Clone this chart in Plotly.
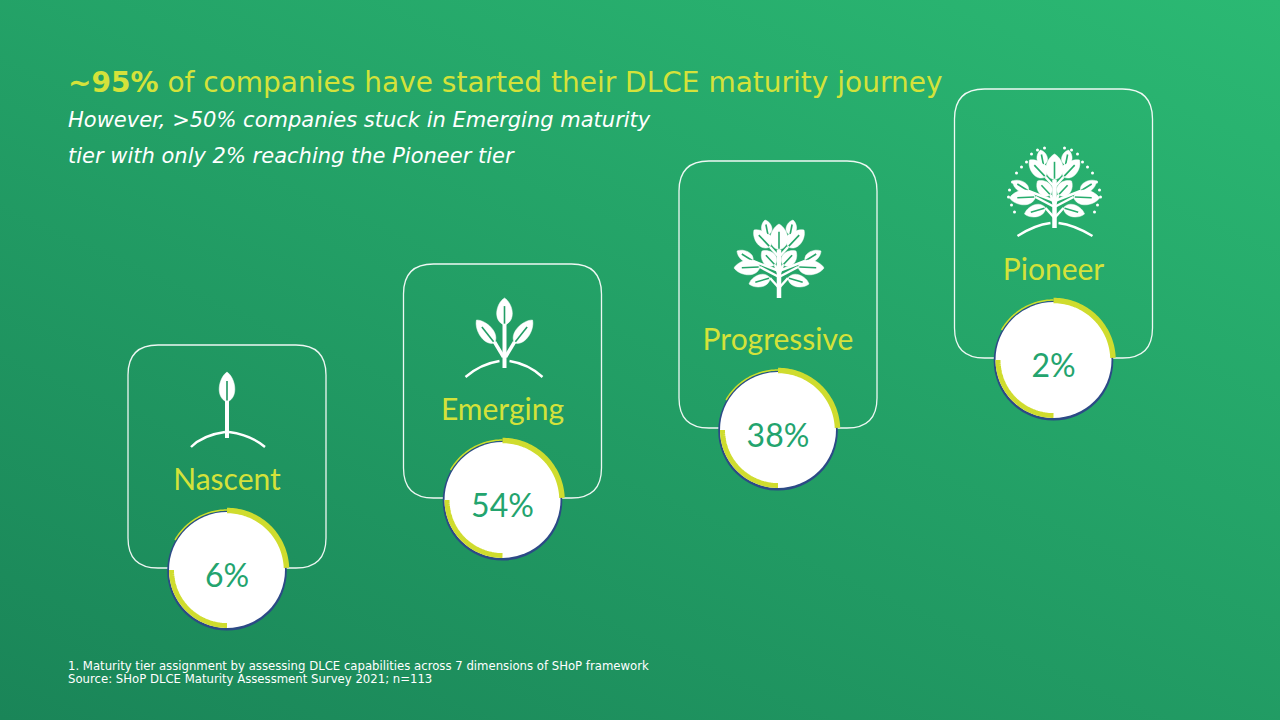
import math
import base64
import plotly.graph_objects as go

# ---------------- data ----------------
tiers = ["Nascent", "Emerging", "Progressive", "Pioneer"]
shares = [6, 54, 38, 2]  # % of companies per maturity tier
title_lead = "~95%"
title_rest = " of companies have started their DLCE maturity journey"
subtitle_lines = ["However, >50% companies stuck in Emerging maturity",
                  "tier with only 2% reaching the Pioneer tier"]
footnotes = ["1. Maturity tier assignment by assessing DLCE capabilities across 7 dimensions of SHoP framework",
             "Source: SHoP DLCE Maturity Assessment Survey 2021; n=113"]

# ---------------- layout constants ----------------
W, H = 1280, 720
X0, DX = 227.0, 275.5      # circle centre x for first tier, step
Y0, DY = 570.0, 70.0       # circle centre y for first tier, step (upwards)
BOX_HALF_W = 99
BOX_TOP_OFF = [225, 236, 269, 271]
BOX_R = 30
LABEL_OFF = -88
PCT_OFF = 9
YELLOW = "#d4e23a"
RING_YELLOW = "#cfdc2e"
NAVY = "#2c4a86"
PCT_GREEN = "#23a46e"

C_DARK = (0x1a, 0x85, 0x58)
C_LIGHT = (0x2b, 0xb9, 0x73)
G_P0 = (0.0, 720.0)
G_P1 = (473.5, -355.0)


def bg_at(x, y):
    vx, vy = G_P1[0] - G_P0[0], G_P1[1] - G_P0[1]
    t = ((x - G_P0[0]) * vx + (y - G_P0[1]) * vy) / (vx * vx + vy * vy)
    t = max(0.0, min(1.0, t))
    c = [round(a + (b - a) * t) for a, b in zip(C_DARK, C_LIGHT)]
    return "#%02x%02x%02x" % tuple(c)


svg = (
    f'<svg xmlns="http://www.w3.org/2000/svg" width="{W}" height="{H}" viewBox="0 0 {W} {H}">'
    f'<defs><linearGradient id="g" gradientUnits="userSpaceOnUse" x1="{G_P0[0]}" y1="{G_P0[1]}" '
    f'x2="{G_P1[0]}" y2="{G_P1[1]}">'
    '<stop offset="0" stop-color="#%02x%02x%02x"/>' % C_DARK +
    '<stop offset="1" stop-color="#%02x%02x%02x"/>' % C_LIGHT +
    f'</linearGradient></defs><rect width="{W}" height="{H}" fill="url(#g)"/></svg>'
)
bg_src = "data:image/svg+xml;base64," + base64.b64encode(svg.encode()).decode()

shapes = []


def pt(x, y):
    return f"{x:.2f},{y:.2f}"


def rounded_box(x0, y0, x1, y1, r):
    p = (f"M {pt(x0 + r, y0)} L {pt(x1 - r, y0)} Q {pt(x1, y0)} {pt(x1, y0 + r)} "
         f"L {pt(x1, y1 - r)} Q {pt(x1, y1)} {pt(x1 - r, y1)} "
         f"L {pt(x0 + r, y1)} Q {pt(x0, y1)} {pt(x0, y1 - r)} "
         f"L {pt(x0, y0 + r)} Q {pt(x0, y0)} {pt(x0 + r, y0)} Z")
    return dict(type="path", path=p, xref="x", yref="y", layer="below",
                line=dict(color="rgba(255,255,255,0.92)", width=1.3),
                fillcolor="rgba(0,0,0,0)")


def arc(cx, cy, r, a0, a1, color, width, n=48):
    pts = []
    for i in range(n + 1):
        a = math.radians(a0 + (a1 - a0) * i / n)
        pts.append(pt(cx + r * math.sin(a), cy - r * math.cos(a)))
    return dict(type="path", path="M " + " L ".join(pts), xref="x", yref="y",
                layer="below", line=dict(color=color, width=width))


def circle(cx, cy, r, fill, line_color=None, lw=0):
    return dict(type="circle", x0=cx - r, x1=cx + r, y0=cy - r, y1=cy + r,
                xref="x", yref="y", layer="below", fillcolor=fill,
                line=dict(color=line_color or fill, width=lw))


def line(x0, y0, x1, y1, color="white", w=3):
    return dict(type="line", x0=x0, y0=y0, x1=x1, y1=y1, xref="x", yref="y",
                layer="below", line=dict(color=color, width=w))


def leaf(bx, by, tx, ty, w, vein=True):
    dx, dy = tx - bx, ty - by
    L = math.hypot(dx, dy)
    nx, ny = -dy / L, dx / L
    c1 = (bx + nx * w * 1.35 + dx * 0.15, by + ny * w * 1.35 + dy * 0.15)
    c2 = (bx + nx * w * 0.95 + dx * 0.8, by + ny * w * 0.95 + dy * 0.8)
    c3 = (bx - nx * w * 0.95 + dx * 0.8, by - ny * w * 0.95 + dy * 0.8)
    c4 = (bx - nx * w * 1.35 + dx * 0.15, by - ny * w * 1.35 + dy * 0.15)
    p = (f"M {pt(bx, by)} C {pt(*c1)} {pt(*c2)} {pt(tx, ty)} "
         f"C {pt(*c3)} {pt(*c4)} {pt(bx, by)} Z")
    out = [dict(type="path", path=p, xref="x", yref="y", layer="below",
                fillcolor="white", line=dict(color="white", width=0.5))]
    if vein:
        out.append(line(bx + dx * 0.05, by + dy * 0.05, bx + dx * 0.7, by + dy * 0.7,
                        color=bg_at(bx, by), w=1.6))
    return out


def curve(x0, y0, cx, cy, x1, y1, w=2.4):
    return dict(type="path", path=f"M {pt(x0, y0)} Q {pt(cx, cy)} {pt(x1, y1)}",
                xref="x", yref="y", layer="below", line=dict(color="white", width=w))


def icon_nascent(cx, gy):
    s = []
    s.append(line(cx, gy - 9, cx, gy - 46, w=4))
    s += leaf(cx, gy - 45, cx, gy - 75, 9)
    s.append(curve(cx - 36, gy, cx - 24, gy - 12, cx - 2, gy - 15))
    s.append(curve(cx + 2, gy - 15, cx + 24, gy - 12, cx + 38, gy))
    return s


def icon_emerging(cx, gy):
    s = []
    s.append(line(cx + 2, gy - 9, cx + 2, gy - 56, w=4))
    s.append(line(cx + 1, gy - 20, cx - 8, gy - 35, w=3.5))
    s.append(line(cx + 3, gy - 20, cx + 12, gy - 35, w=3.5))
    s += leaf(cx + 2, gy - 52, cx + 2, gy - 79, 9)
    s += leaf(cx - 8, gy - 34, cx - 26, gy - 57, 8)
    s += leaf(cx + 12, gy - 34, cx + 30, gy - 57, 8)
    s.append(curve(cx - 37, gy, cx - 22, gy - 13, cx - 3, gy - 16))
    s.append(curve(cx + 7, gy - 16, cx + 26, gy - 13, cx + 40, gy))
    return s


TREE_LEAVES = [  # (base dx, base dy, tip dx, tip dy, half width) right side; mirrored
    (11, -63, 14, -78, 6),
    (9, -51, 25, -68, 8),
    (26, -37, 42, -47, 6),
    (4, -33, 17, -47, 8),
    (19, -31, 45, -30, 8.5),
    (9, -20, 30, -14, 7),
]


def icon_tree(cx, by, dots=False):
    s = []
    s.append(line(cx, by, cx, by - 48, w=4.5))
    for (bdx, bdy, tdx, tdy, w) in TREE_LEAVES:
        for sg in (1, -1):
            s.append(line(cx, by + bdy + 10, cx + sg * bdx, by + bdy, w=2.5))
    s += leaf(cx, by - 48, cx, by - 74, 10)
    for (bdx, bdy, tdx, tdy, w) in TREE_LEAVES:
        for sg in (1, -1):
            s += leaf(cx + sg * bdx, by + bdy, cx + sg * tdx, by + tdy, w)
    if dots:
        for (ddx, ddy) in [(38, -55), (33, -61), (28, -66), (43, -23), (40, -16),
                           (45, -38), (46, -31), (10, -80), (17, -78), (23, -74), (42, -46)]:
            for sg in (1, -1):
                s.append(circle(cx + sg * ddx, by + ddy, 1.5, "white"))
        s.append(curve(cx - 37, by + 8, cx - 20, by - 3, cx - 4, by - 5))
        s.append(curve(cx + 4, by - 5, cx + 20, by - 3, cx + 38, by + 8))
    return s


centers = [(X0 + i * DX, Y0 - i * DY) for i in range(len(tiers))]

# boxes
for i, (cx, cy) in enumerate(centers):
    shapes.append(rounded_box(cx - BOX_HALF_W, cy - BOX_TOP_OFF[i], cx + BOX_HALF_W, cy - 2, BOX_R))

# icons
(c0x, c0y), (c1x, c1y), (c2x, c2y), (c3x, c3y) = centers
shapes += icon_nascent(c0x, c0y - 123)
shapes += icon_emerging(c1x, c1y - 123)
shapes += icon_tree(c2x + 1, c2y - 132)
shapes += icon_tree(c3x + 1, c3y - 132, dots=True)

# rings
for (cx, cy) in centers:
    shapes.append(circle(cx, cy + 0.8, 59.8, NAVY))
    shapes.append(circle(cx, cy, 58, "white"))
    shapes.append(arc(cx, cy, 60, 300, 360, RING_YELLOW, 1.5))
    shapes.append(arc(cx, cy, 59.5, 0, 88, RING_YELLOW, 5.5))
    shapes.append(arc(cx, cy, 55.5, 270, 180, RING_YELLOW, 5))

fig = go.Figure()
fig.add_trace(go.Scatter(
    x=[c[0] for c in centers], y=[c[1] + LABEL_OFF for c in centers],
    mode="text", text=tiers,
    textfont=dict(family="Lato", size=30, color=YELLOW),
    hoverinfo="skip", showlegend=False))
fig.add_trace(go.Scatter(
    x=[c[0] for c in centers], y=[c[1] + PCT_OFF for c in centers],
    mode="text", text=[f"{v}%" for v in shares],
    textfont=dict(family="Lato", size=32, color=PCT_GREEN),
    hoverinfo="skip", showlegend=False))

annotations = [
    dict(x=66, y=82, xref="x", yref="y", xanchor="left", yanchor="middle",
         text=f"<b>{title_lead}</b>{title_rest}", showarrow=False,
         font=dict(family="DejaVu Sans", size=28, color=YELLOW)),
]
for k, t in enumerate(subtitle_lines):
    annotations.append(dict(x=66, y=120 + 36 * k, xref="x", yref="y", xanchor="left",
                            yanchor="middle", text=f"<i>{t}</i>", showarrow=False,
                            font=dict(family="DejaVu Sans", size=21, color="white")))
for k, t in enumerate(footnotes):
    annotations.append(dict(x=66, y=666 + 13 * k, xref="x", yref="y", xanchor="left",
                            yanchor="middle", text=t, showarrow=False,
                            font=dict(family="DejaVu Sans", size=11.7, color="white")))

fig.update_layout(
    width=W, height=H, margin=dict(l=0, r=0, t=0, b=0),
    paper_bgcolor="#229e65", plot_bgcolor="rgba(0,0,0,0)",
    xaxis=dict(range=[0, W], visible=False, fixedrange=True),
    yaxis=dict(range=[H, 0], visible=False, fixedrange=True),
    images=[dict(source=bg_src, xref="paper", yref="paper", x=0, y=1, sizex=1, sizey=1,
                 sizing="stretch", xanchor="left", yanchor="top", layer="below")],
    shapes=shapes, annotations=annotations, showlegend=False,
)

fig.write_html("out.html", config={"displayModeBar": False},
               post_script="document.body.style.margin='0';document.body.style.overflow='hidden';")
